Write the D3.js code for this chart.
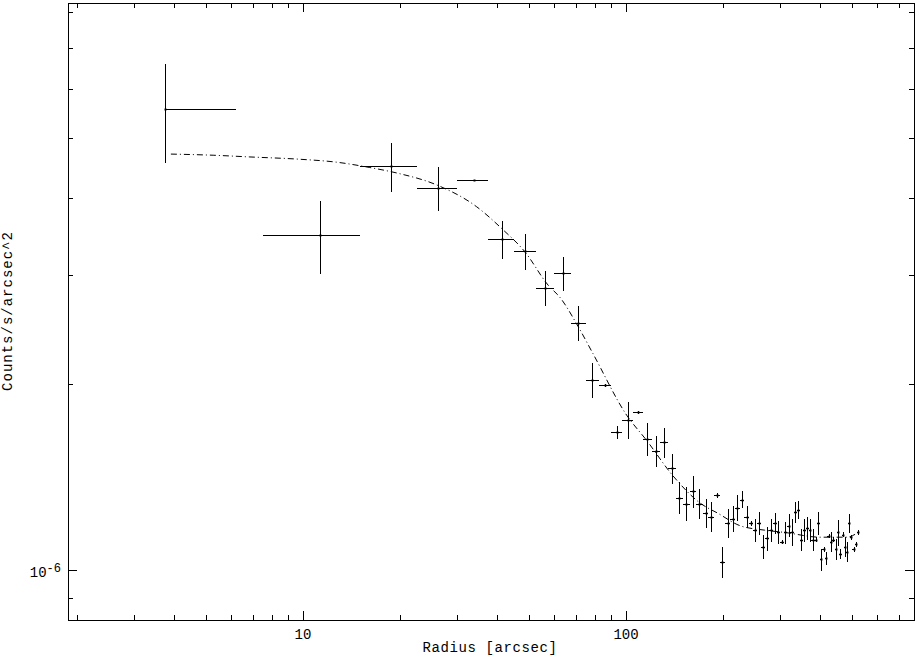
<!DOCTYPE html>
<html>
<head>
<meta charset="utf-8">
<script src="https://cdn.jsdelivr.net/npm/d3@7"></script>
<style>
  html, body { margin: 0; padding: 0; background: #fff; }
  svg { display: block; }
  text { font-family: "Liberation Mono", "DejaVu Sans Mono", monospace; fill: #000; }
</style>
</head>
<body>
<div id="chart"></div>
<script>
// Surface brightness profile: radius bins (arcsec) and counts/s/arcsec^2
const radius = [
  3.75, 11.25, 18.75, 26.25, 33.75, 41.25, 48.75, 56.25, 63.75, 71.25,
  78.75, 86.25, 93.75, 101.25, 108.75, 116.25, 123.75, 131.25, 138.75, 146.25,
  153.75, 161.25, 168.75, 176.25, 183.75, 191.25, 198.75, 206.25, 213.75, 221.25,
  228.75, 236.25, 243.75, 251.25, 258.75, 266.25, 273.75, 281.25, 288.75, 296.25,
  303.75, 311.25, 318.75, 326.25, 333.75, 341.25, 348.75, 356.25, 363.75, 371.25,
  378.75, 386.25, 393.75, 401.25, 408.75, 416.25, 423.75, 431.25, 438.75, 446.25,
  453.75, 461.25, 468.75, 476.25, 483.75, 491.25, 498.75, 506.25, 513.75, 521.25
];
const radiusErrLo = [
  3.75, 3.75, 3.75, 3.75, 3.75, 3.75, 3.75, 3.75, 3.75, 3.75,
  3.75, 3.75, 3.75, 3.75, 3.75, 3.75, 3.75, 3.75, 3.75, 3.75,
  3.75, 3.75, 3.75, 3.75, 3.75, 3.75, 3.75, 3.75, 3.75, 3.75,
  3.75, 3.75, 3.75, 3.75, 3.75, 3.75, 3.75, 3.75, 3.75, 3.75,
  3.75, 3.75, 3.75, 3.75, 3.75, 3.75, 3.75, 3.75, 3.75, 3.75,
  3.75, 3.75, 3.75, 3.75, 3.75, 3.75, 3.75, 3.75, 3.75, 3.75,
  3.75, 3.75, 3.75, 3.75, 3.75, 3.75, 3.75, 3.75, 3.75, 3.75
];
const radiusErrHi = [
  2.45, 3.75, 3.75, 3.75, 3.75, 3.75, 3.75, 3.75, 3.75, 3.75,
  3.75, 3.75, 3.75, 3.75, 3.75, 3.75, 3.75, 3.75, 3.75, 3.75,
  3.75, 3.75, 3.75, 3.75, 3.75, 3.75, 3.75, 3.75, 3.75, 3.75,
  3.75, 3.75, 3.75, 3.75, 3.75, 3.75, 3.75, 3.75, 3.75, 3.75,
  3.75, 3.75, 3.75, 3.75, 3.75, 3.75, 3.75, 3.75, 3.75, 3.75,
  3.75, 3.75, 3.75, 3.75, 3.75, 3.75, 3.75, 3.75, 3.75, 3.75,
  3.75, 3.75, 3.75, 3.75, 3.75, 3.75, 3.75, 3.75, 3.75, 3.75
];
const counts = [
  5.57e-6, 3.48e-6, 4.50e-6, 4.15e-6, 4.27e-6, 3.43e-6, 3.28e-6, 2.86e-6, 3.02e-6, 2.51e-6,
  2.03e-6, 1.99e-6, 1.67e-6, 1.75e-6, 1.80e-6, 1.63e-6, 1.56e-6, 1.61e-6, 1.46e-6, 1.31e-6,
  1.28e-6, 1.34e-6, 1.28e-6, 1.235e-6, 1.22e-6, 1.32e-6, 1.03e-6, 1.19e-6, 1.21e-6, 1.26e-6,
  1.30e-6, 1.22e-6, 1.19e-6, 1.16e-6, 1.19e-6, 1.09e-6, 1.125e-6, 1.16e-6, 1.19e-6, 1.15e-6,
  1.11e-6, 1.15e-6, 1.18e-6, 1.15e-6, 1.24e-6, 1.25e-6, 1.12e-6, 1.16e-6, 1.17e-6, 1.16e-6,
  1.12e-6, 1.12e-6, 1.19e-6, 1.04e-6, 1.08e-6, 1.045e-6, 1.135e-6, 1.11e-6, 1.12e-6, 1.08e-6,
  1.15e-6, 1.06e-6, 1.14e-6, 1.09e-6, 1.07e-6, 1.19e-6, 1.13e-6, 1.08e-6, 1.10e-6, 1.15e-6
];
const countsErr = [
  1.02e-6, 0.47e-6, 0.41e-6, 0.34e-6, 0.01e-6, 0.24e-6, 0.22e-6, 0.19e-6, 0.19e-6, 0.16e-6,
  0.13e-6, 0.01e-6, 0.04e-6, 0.12e-6, 0.01e-6, 0.10e-6, 0.09e-6, 0.09e-6, 0.08e-6, 0.08e-6,
  0.08e-6, 0.08e-6, 0.07e-6, 0.066e-6, 0.067e-6, 0.01e-6, 0.06e-6, 0.065e-6, 0.057e-6, 0.06e-6,
  0.04e-6, 0.05e-6, 0.01e-6, 0.05e-6, 0.05e-6, 0.05e-6, 0.05e-6, 0.048e-6, 0.045e-6, 0.05e-6,
  0.01e-6, 0.047e-6, 0.05e-6, 0.058e-6, 0.047e-6, 0.042e-6, 0.046e-6, 0.048e-6, 0.05e-6, 0.048e-6,
  0.046e-6, 0.01e-6, 0.049e-6, 0.043e-6, 0.01e-6, 0.026e-6, 0.01e-6, 0.042e-6, 0.01e-6, 0.041e-6,
  0.055e-6, 0.02e-6, 0.01e-6, 0.041e-6, 0.04e-6, 0.041e-6, 0.01e-6, 0.01e-6, 0.01e-6, 0.01e-6
];

// fitted model curve (beta model + background)
const modelRadius = [
  3.90, 5.27, 6.85, 9.79, 12.7, 16.1, 19.5, 25.9, 34.5, 41.2,
  48.7, 57.4, 62.5, 71.0, 79.0, 100.5, 115.9, 139.8, 170.7, 192.7,
  224.9, 268.8, 310.8, 398.6, 482.4, 522.8
];
const modelCounts = [
  4.71e-6, 4.69e-6, 4.66e-6, 4.62e-6, 4.57e-6, 4.48e-6, 4.39e-6, 4.20e-6, 3.87e-6, 3.57e-6,
  3.27e-6, 2.89e-6, 2.76e-6, 2.48e-6, 2.24e-6, 1.78e-6, 1.62e-6, 1.42e-6, 1.28e-6, 1.235e-6,
  1.18e-6, 1.16e-6, 1.15e-6, 1.13e-6, 1.13e-6, 1.15e-6
];

// axis ranges and ticks
const xDomain = [1.873, 779];
const yDomain = [8.30e-7, 8.27e-6];
const xMajorTicks = [10, 100];
const xMinorTicks = [2, 3, 4, 5, 6, 7, 8, 9, 20, 30, 40, 50, 60, 70, 80, 90, 200, 300, 400, 500, 600, 700];
const yMajorTicks = [1e-6];
const yMinorTicks = [9e-7, 2e-6, 3e-6, 4e-6, 5e-6, 6e-6, 7e-6, 8e-6];
const xLabel = "Radius [arcsec]";
const yLabel = "Counts/s/arcsec^2";

const WIDTH = 916, HEIGHT = 657;
const frame = { left: 68, right: 914, top: 3, bottom: 620 };

main();

function main() {
  const svg = d3.select("#chart").append("svg")
    .attr("width", WIDTH)
    .attr("height", HEIGHT);

  const x = d3.scaleLog().domain(xDomain).range([frame.left, frame.right]);
  const y = d3.scaleLog().domain(yDomain).range([frame.bottom, frame.top]);

  drawFrame(svg, x, y);
  drawData(svg, x, y);
}

// box, inward ticks on all four sides, tick labels and titles
function drawFrame(svg, x, y) {
  const g = svg.append("g")
    .attr("stroke", "#000")
    .attr("stroke-width", 1)
    .attr("shape-rendering", "crispEdges");

  g.append("rect")
    .attr("x", frame.left + 0.5).attr("y", frame.top + 0.5)
    .attr("width", frame.right - frame.left)
    .attr("height", frame.bottom - frame.top)
    .attr("fill", "none")
    .attr("stroke-width", 1.3);

  const xt = xMajorTicks.map(v => ({ v, len: 9 })).concat(xMinorTicks.map(v => ({ v, len: 5 })));
  const yt = yMajorTicks.map(v => ({ v, len: 9 })).concat(yMinorTicks.map(v => ({ v, len: 5 })));

  xt.forEach(t => {
    const px = Math.round(x(t.v)) + 0.5;
    g.append("line").attr("x1", px).attr("x2", px).attr("y1", frame.bottom).attr("y2", frame.bottom - t.len);
    g.append("line").attr("x1", px).attr("x2", px).attr("y1", frame.top).attr("y2", frame.top + t.len);
  });
  yt.forEach(t => {
    const py = Math.round(y(t.v)) + 0.5;
    g.append("line").attr("y1", py).attr("y2", py).attr("x1", frame.left).attr("x2", frame.left + t.len);
    g.append("line").attr("y1", py).attr("y2", py).attr("x1", frame.right).attr("x2", frame.right - t.len);
  });

  // tick labels
  svg.selectAll("text.xtick")
    .data(xMajorTicks)
    .join("text")
    .attr("class", "xtick")
    .attr("x", d => x(d))
    .attr("y", 639)
    .attr("text-anchor", "middle")
    .attr("font-size", 14)
    .text(d => d3.format("d")(d));

  yMajorTicks.forEach(v => {
    const exp = Math.round(Math.log10(v));
    const t = svg.append("text")
      .attr("x", 61)
      .attr("y", y(v) + 7)
      .attr("text-anchor", "end")
      .attr("font-size", 14);
    t.append("tspan").text("10");
    t.append("tspan").attr("dy", -5).attr("font-size", 12).text("-" + Math.abs(exp));
  });

  svg.append("text")
    .attr("x", 490)
    .attr("y", 652)
    .attr("text-anchor", "middle")
    .attr("font-size", 14)
    .attr("letter-spacing", 0.6)
    .text(xLabel);

  svg.append("text")
    .attr("transform", "translate(12,311) rotate(-90)")
    .attr("text-anchor", "middle")
    .attr("font-size", 14)
    .attr("letter-spacing", 1)
    .text(yLabel);
}

// error bars, points and model curve
function drawData(svg, x, y) {
  svg.append("clipPath").attr("id", "plot-clip")
    .append("rect")
    .attr("x", frame.left).attr("y", frame.top)
    .attr("width", frame.right - frame.left)
    .attr("height", frame.bottom - frame.top);

  const g = svg.append("g").attr("clip-path", "url(#plot-clip)");

  const points = radius.map((r, i) => ({
    r,
    lo: r - radiusErrLo[i],
    hi: r + radiusErrHi[i],
    c: counts[i],
    e: countsErr[i]
  }));

  const snap = v => Math.round(v) + 0.5;

  const bars = g.append("g")
    .attr("stroke", "#000")
    .attr("stroke-width", 1)
    .attr("shape-rendering", "crispEdges");

  // horizontal (radius bin) bars; a bin starting at 0 has no left arm on a log axis
  bars.selectAll("line.xerr")
    .data(points)
    .join("line")
    .attr("class", "xerr")
    .attr("x1", d => d.lo > 0 ? x(d.lo) : x(d.r))
    .attr("x2", d => x(d.hi))
    .attr("y1", d => snap(y(d.c)))
    .attr("y2", d => snap(y(d.c)));

  bars.selectAll("line.yerr")
    .data(points)
    .join("line")
    .attr("class", "yerr")
    .attr("x1", d => snap(x(d.r)))
    .attr("x2", d => snap(x(d.r)))
    .attr("y1", d => y(d.c + d.e))
    .attr("y2", d => y(d.c - d.e));

  g.selectAll("rect.pt")
    .data(points)
    .join("rect")
    .attr("class", "pt")
    .attr("x", d => Math.round(x(d.r)) - 0.5)
    .attr("y", d => Math.round(y(d.c)) - 0.5)
    .attr("width", 2)
    .attr("height", 2)
    .attr("fill", "#000");

  const line = d3.line()
    .x(d => x(d[0]))
    .y(d => y(d[1]))
    .curve(d3.curveMonotoneX);

  g.append("path")
    .datum(modelRadius.map((r, i) => [r, modelCounts[i]]))
    .attr("fill", "none")
    .attr("stroke", "#000")
    .attr("stroke-width", 1)
    .attr("stroke-dasharray", "6,3,1,3")
    .attr("d", line);
}
</script>
</body>
</html>
